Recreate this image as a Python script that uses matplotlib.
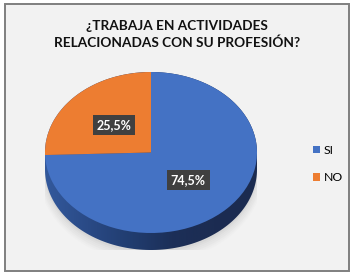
import numpy as np
import matplotlib
matplotlib.use("Agg")
import matplotlib.pyplot as plt
from matplotlib.patches import Rectangle, Ellipse, PathPatch
from matplotlib.path import Path
from matplotlib.colors import LinearSegmentedColormap

title = "¿TRABAJA EN ACTIVIDADES\nRELACIONADAS CON SU PROFESIÓN?"
categories = ["SI", "NO"]
values = [74.5, 25.5]
colors = ["#4472c4", "#ed7d31"]

W, H = 356, 278
fig = plt.figure(figsize=(W / 100, H / 100), dpi=100)
fig.patch.set_facecolor("white")

# chart area frame
fig.patches.append(Rectangle((5 / W, 1 - 270.5 / H), 344 / W, 266.5 / H,
                             transform=fig.transFigure, facecolor="#f2f2f2",
                             edgecolor="#7f7f7f", linewidth=1.4, zorder=-5))

fig.text(177 / W, 1 - 34.5 / H, title, ha="center", va="center",
         fontsize=9.8, fontweight="bold", family="Lato", color="#111111",
         linespacing=1.42)

# pie axes (ellipse: center (151,152.5), rx 106, ry 80.5, depth 17)
cx, cy, rx, ry, dpx = 151, 152.5, 106, 80.5, 17
depth = dpx / ry
left = (cx - rx) / W
bottom = 1 - (cy + ry + dpx) / H
ax = fig.add_axes([left, bottom, 2 * rx / W, (2 * ry + dpx) / H])
ax.patch.set_alpha(0)
ax.axis("off")

# soft shadow
for i, a in enumerate(np.linspace(0.06, 0.02, 6)):
    e = Ellipse((0, -depth - 0.03), 2 + 0.025 * i, 2 + 0.05 * i,
                facecolor="#7f7f7f", edgecolor="none", alpha=a, zorder=0)
    ax.add_patch(e)

# side (extrusion) with gradient
t1 = np.linspace(0, np.pi, 100)
t2 = np.linspace(np.pi, 2 * np.pi, 100)
verts = np.concatenate([
    np.column_stack([np.cos(t1), np.sin(t1)]),
    np.column_stack([np.cos(t2), np.sin(t2) - depth]),
])
verts = np.vstack([verts, verts[:1]])
codes = [Path.MOVETO] + [Path.LINETO] * (len(verts) - 2) + [Path.CLOSEPOLY]
side = PathPatch(Path(verts, codes), facecolor="none", edgecolor="none")
ax.add_patch(side)
cmap = LinearSegmentedColormap.from_list(
    "side", ["#33599c", "#2a4a86", "#213d70", "#1c2f58", "#1c2c52", "#1b2b50"])
grad = np.linspace(0, 1, 256)[None, :]
im = ax.imshow(grad, extent=[-1, 1, -1 - depth, 1], aspect="auto",
               cmap=cmap, zorder=1)
im.set_clip_path(side)

wedges, texts, autotexts = ax.pie(
    values, colors=colors, startangle=90, counterclock=False,
    radius=1, autopct=lambda p: f"{p:.1f}%".replace(".", ","),
    pctdistance=0.49, wedgeprops=dict(linewidth=0),
    textprops=dict(color="white", fontsize=9, fontweight="bold",
                   family="Lato"))
ax.set_xlim(-1, 1)
ax.set_ylim(-1 - depth, 1)
ax.set_aspect("auto")
ax.axis("off")
for w in wedges:
    w.set_zorder(2)
for at in autotexts:
    at.set_zorder(5)
    at.set_bbox(dict(boxstyle="square,pad=0.3", facecolor="#404040",
                     edgecolor="none"))

fig.legend(wedges, categories, loc="center left",
           bbox_to_anchor=(302 / W, 1 - 164 / H), frameon=False,
           handlelength=0.55, handleheight=0.55, handletextpad=0.35,
           labelspacing=1.35, prop=dict(family="Lato", size=8.8))

fig.savefig("out.png", dpi=100, facecolor=fig.get_facecolor())
